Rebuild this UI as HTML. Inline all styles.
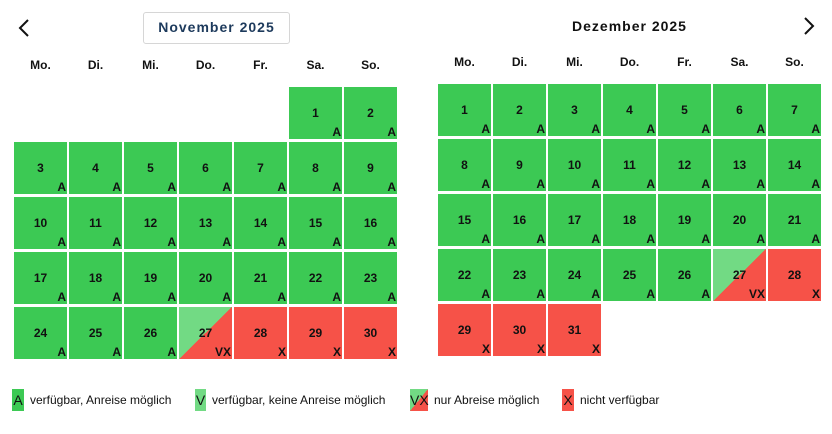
<!DOCTYPE html>
<html><head><meta charset="utf-8"><style>
body{margin:0;width:832px;height:434px;background:#fff;font-family:"Liberation Sans",Arial,sans-serif;position:relative;overflow:hidden}
.c{position:absolute;width:53px;height:52px;background:#3cc954}
.c .n{position:absolute;left:0;width:53px;top:19px;text-align:center;font-weight:bold;font-size:12px;color:#111}
.c .l{position:absolute;right:1px;bottom:0px;font-weight:bold;font-size:12px;color:#111}
.r{background:#f65248}
.d{background:linear-gradient(to bottom right,#72da84 50%,#f65248 50%)}
.wd{position:absolute;font-weight:bold;font-size:12px;width:53px;text-align:center;color:#111}
.t{position:absolute;font-weight:bold;font-size:14px;letter-spacing:1px}
.lg{position:absolute;top:389px;font-size:12px;color:#111;line-height:22px}
.lg span.b{display:inline-block;height:22px;vertical-align:top;margin-right:6px;font-size:14px;text-align:center}
</style></head><body>
<div style="position:absolute;left:143px;top:12px;width:145px;height:30px;border:1px solid #d6d6d6;border-radius:3px"></div>
<div class="t" style="left:143px;top:19px;width:147px;text-align:center;color:#1d3a5c">November 2025</div>
<div class="t" style="left:438px;top:18px;width:383px;text-align:center;color:#111">Dezember 2025</div>
<svg style="position:absolute;left:17px;top:18px" width="14" height="20"><path d="M11 2L3 10L11 18" stroke="#111" stroke-width="2" fill="none"/></svg>
<svg style="position:absolute;left:802px;top:16px" width="14" height="20"><path d="M3 2L11 10L3 18" stroke="#111" stroke-width="2" fill="none"/></svg>
<div id="g"></div>
<div class="lg" style="left:12px"><span class="b" style="width:12px;background:#3cc954">A</span>verfügbar, Anreise möglich</div>
<div class="lg" style="left:195px"><span class="b" style="width:11px;background:#72da84">V</span>verfügbar, keine Anreise möglich</div>
<div class="lg" style="left:410px"><span class="b" style="width:18px;background:linear-gradient(to bottom right,#72da84 50%,#f65248 50%)">VX</span>nur Abreise möglich</div>
<div class="lg" style="left:562px"><span class="b" style="width:12px;background:#f65248">X</span>nicht verfügbar</div>
<script>
var g=document.getElementById('g'),h='';
var wd=['Mo.','Di.','Mi.','Do.','Fr.','Sa.','So.'];
function month(x0,y0,wy,start,days,st){
 for(var i=0;i<7;i++)h+='<div class="wd" style="left:'+(x0+i*55)+'px;top:'+wy+'px">'+wd[i]+'</div>';
 for(var d=1;d<=days;d++){var p=start+d-1,col=p%7,row=Math.floor(p/7);var s=st(d);
  var cls=s=='X'?'c r':s=='VX'?'c d':'c';
  h+='<div class="'+cls+'" style="left:'+(x0+col*55)+'px;top:'+(y0+row*55)+'px"><div class="n">'+d+'</div><div class="l">'+s+'</div></div>';}
}
month(14,87,58,5,30,function(d){return d<27?'A':d==27?'VX':'X'});
month(438,84,55,0,31,function(d){return d<27?'A':d==27?'VX':'X'});
g.innerHTML=h;
</script>
</body></html>
